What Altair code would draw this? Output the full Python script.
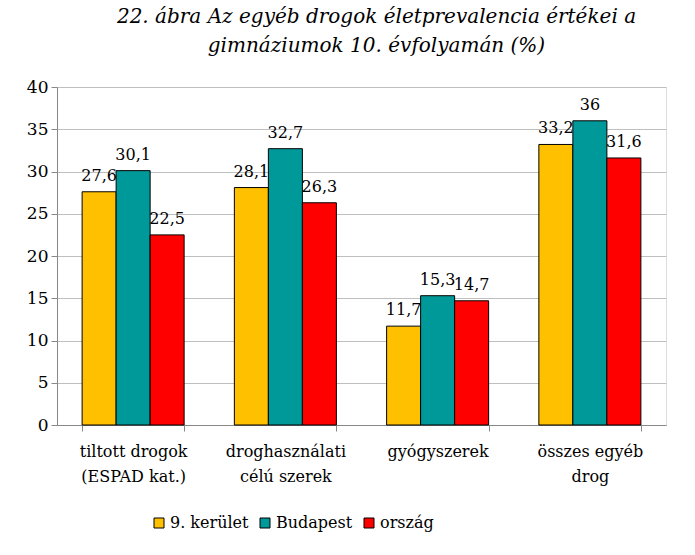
import altair as alt
import pandas as pd

categories = ["tiltott drogok\n(ESPAD kat.)", "droghasználati\ncélú szerek", "gyógyszerek", "összes egyéb\ndrog"]
series = ["9. kerület", "Budapest", "ország"]
v_kerulet = [27.6, 28.1, 11.7, 33.2]
v_budapest = [30.1, 32.7, 15.3, 36]
v_orszag = [22.5, 26.3, 14.7, 31.6]
colors = ["#FFC000", "#009999", "#FF0000"]

rows = []
for s, vals in zip(series, [v_kerulet, v_budapest, v_orszag]):
    for c, v in zip(categories, vals):
        rows.append({"cat": c, "series": s, "value": v, "label": str(v).replace(".", ",")})
df = pd.DataFrame(rows)

FONT = "'DejaVu Serif', 'Liberation Serif', 'Noto Serif', serif"

base = alt.Chart(df).encode(
    x=alt.X("cat:N", sort=categories, title=None,
            scale=alt.Scale(paddingInner=0.33, paddingOuter=0.165),
            axis=alt.Axis(labelAngle=0, labelExpr="split(datum.label, '\\n')", labelFont=FONT,
                          labelFontSize=16, labelColor="black", labelPadding=12, labelLineHeight=25,
                          tickBand="extent", tickSize=6, tickColor="#888888",
                          domainColor="#888888", grid=False)),
    xOffset=alt.XOffset("series:N", sort=series, scale=alt.Scale(paddingInner=0, paddingOuter=0)),
)

bars = base.mark_bar(stroke="black", strokeWidth=1).encode(
    y=alt.Y("value:Q", title=None,
            scale=alt.Scale(domain=[0, 40]),
            axis=alt.Axis(values=list(range(0, 45, 5)), labelFont=FONT, labelFontSize=17,
                          labelColor="black", tickSize=6, tickColor="#888888", labelPadding=3,
                          domainColor="#888888", gridColor="#BFBFBF")),
    color=alt.Color("series:N", sort=series, title=None,
                    scale=alt.Scale(domain=series, range=colors),
                    legend=alt.Legend(orient="none", direction="horizontal", legendX=94, legendY=428,
                                      symbolType="square", symbolSize=100, symbolStrokeColor="black",
                                      symbolStrokeWidth=1, labelFont=FONT, labelFontSize=16,
                                      labelColor="black", columnPadding=8, labelOffset=3)),
)

texts = base.mark_text(font=FONT, fontSize=16, dy=-11, baseline="alphabetic", color="black").encode(
    y=alt.Y("value:Q"),
    text="label:N",
)

chart = alt.layer(bars, texts).properties(
    width=609, height=338,
    title=alt.Title(["22. ábra Az egyéb drogok életprevalencia értékei a", "gimnáziumok 10. évfolyamán (%)"],
                    font=FONT, fontSize=20, fontStyle="italic", fontWeight="normal", color="black",
                    anchor="middle", dx=15, offset=22, lineHeight=29),
    autosize=alt.AutoSizeParams(type="none"),
    padding={"left": 57, "top": 87, "right": 29, "bottom": 130},
).configure_view(stroke="black", strokeWidth=1).configure(background="white")

chart.save("out.html", embed_options={"renderer": "svg", "actions": False})
